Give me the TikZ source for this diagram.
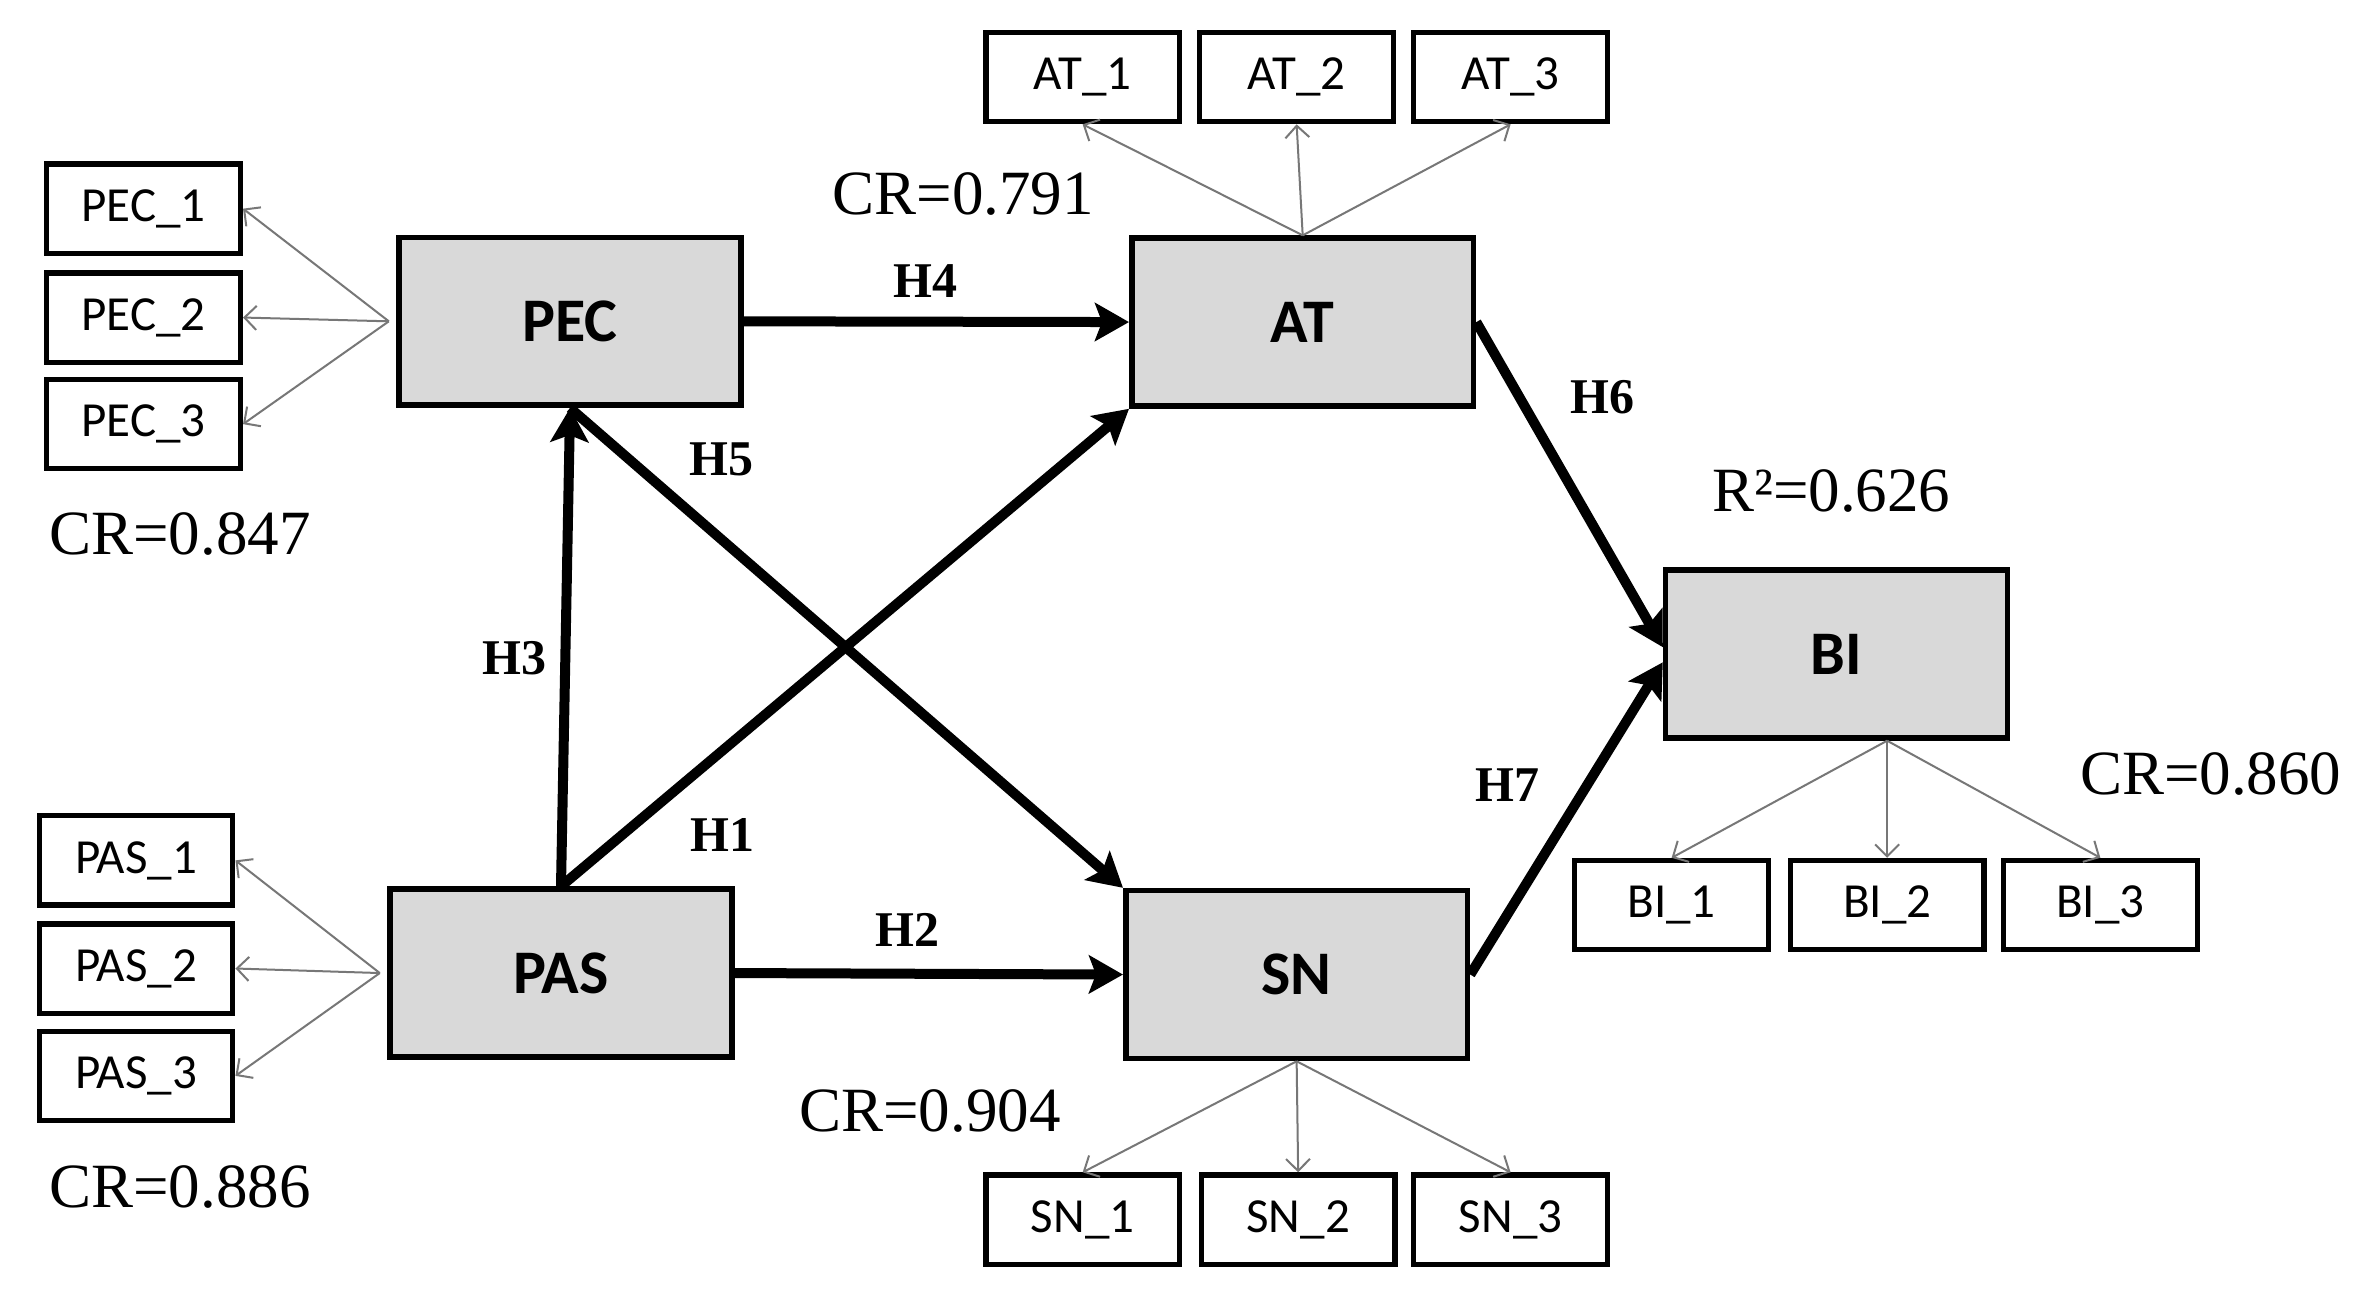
\documentclass[tikz,border=0pt]{standalone}
\usepackage{fontspec}
\setmainfont{Liberation Serif}
\newfontfamily\boxfont{Carlito}
\usetikzlibrary{arrows.meta}
\definecolor{boxgray}{HTML}{D9D9D9}
\definecolor{linkgray}{HTML}{777777}
\def\pxu{0.75605pt}
\begin{document}
\begin{tikzpicture}[x=0.75605pt, y=-0.75605pt,
  latent/.style={draw, line width=2.8pt, fill=boxgray, minimum width=226*\pxu, minimum height=111*\pxu, inner sep=0pt, font=\boxfont\bfseries\fontsize{31}{31}\selectfont},
  indicator/.style={draw, line width=2.6pt, fill=white, minimum width=128*\pxu, minimum height=59*\pxu, inner sep=0pt, font=\boxfont\fontsize{24.5}{24.5}\selectfont},
  structural/.style={line width=5pt, -{Stealth[length=17pt,width=19pt,inset=3.5pt]}},
  loadarrow/.style={draw=linkgray, line width=1pt, -{Straight Barb[length=6pt,width=12pt]}},
  hyp/.style={font=\bfseries\fontsize{25}{25}\selectfont, inner sep=0pt},
  crlab/.style={font=\fontsize{31.5}{31.5}\selectfont, inner sep=0pt}]
\fill[white] (0,0) rectangle (1568,859);
\useasboundingbox (0,0) rectangle (1568,859);

% latent constructs
\node[latent] (PEC) at (377,212.5) {PEC};
\node[latent] (AT)  at (861.5,213) {AT};
\node[latent] (PAS) at (371,643.5) {PAS};
\node[latent] (SN)  at (857.5,644.5) {SN};
\node[latent] (BI)  at (1214.5,432.5) {BI};

% indicators
\node[indicator] (PEC1) at (95,138) {PEC\_1};
\node[indicator] (PEC2) at (95,210) {PEC\_2};
\node[indicator] (PEC3) at (95,280.5) {PEC\_3};
\node[indicator] (PAS1) at (90,569) {PAS\_1};
\node[indicator] (PAS2) at (90,640.5) {PAS\_2};
\node[indicator] (PAS3) at (90,711.5) {PAS\_3};
\node[indicator] (AT1) at (716,51) {AT\_1};
\node[indicator] (AT2) at (857.5,51) {AT\_2};
\node[indicator] (AT3) at (999,51) {AT\_3};
\node[indicator] (SN1) at (716,806.5) {SN\_1};
\node[indicator] (SN2) at (858.5,806.5) {SN\_2};
\node[indicator] (SN3) at (999,806.5) {SN\_3};
\node[indicator] (BI1) at (1105.5,598.5) {BI\_1};
\node[indicator] (BI2) at (1248,598.5) {BI\_2};
\node[indicator] (BI3) at (1389,598.5) {BI\_3};

% fan origins
\coordinate (PECf) at ([xshift=-5*\pxu]PEC.west);
\coordinate (PASf) at ([xshift=-5*\pxu]PAS.west);
\coordinate (BIf) at (BI.south -| BI2.north);

% loadings
\foreach \i in {1,2,3} {
  \draw[loadarrow] (PECf) -- (PEC\i.east);
  \draw[loadarrow] (PASf) -- (PAS\i.east);
  \draw[loadarrow] (AT.north) -- (AT\i.south);
  \draw[loadarrow] (SN.south) -- (SN\i.north);
  \draw[loadarrow] (BIf) -- (BI\i.north);
}

% structural paths
\draw[structural] (PEC.east) -- (AT.west);
\draw[structural] (PAS.north) -- (PEC.south);
\draw[structural] (PAS.north) -- (AT.south west);
\draw[structural] (PEC.south) -- (SN.north west);
\draw[structural] (PAS.east) -- (SN.west);
\draw[structural] (AT.east) -- ([yshift=4.5*\pxu]BI.west);
\draw[structural] (SN.east) -- ([yshift=-5.5*\pxu]BI.west);

% hypothesis labels
\node[hyp] (H4) at (612,186) {H4};
\node[hyp] (H3) at (340,435) {H3};
\node[hyp] (H1) at (478,552) {H1};
\node[hyp] (H5) at (477,304) {H5};
\node[hyp] (H2) at (600,615) {H2};
\node[hyp] (H6) at (1060,263) {H6};
\node[hyp] (H7) at (997,519) {H7};

% reliability labels
\node[crlab] (crAT)  at (637,128) {CR=0.791};
\node[crlab] (crPEC) at (119,353) {CR=0.847};
\node[crlab] (rBI)   at (1211,325) {R²=0.626};
\node[crlab] (crBI)  at (1462,512) {CR=0.860};
\node[crlab] (crSN)  at (615,735) {CR=0.904};
\node[crlab] (crPAS) at (119,785) {CR=0.886};
\end{tikzpicture}
\end{document}
